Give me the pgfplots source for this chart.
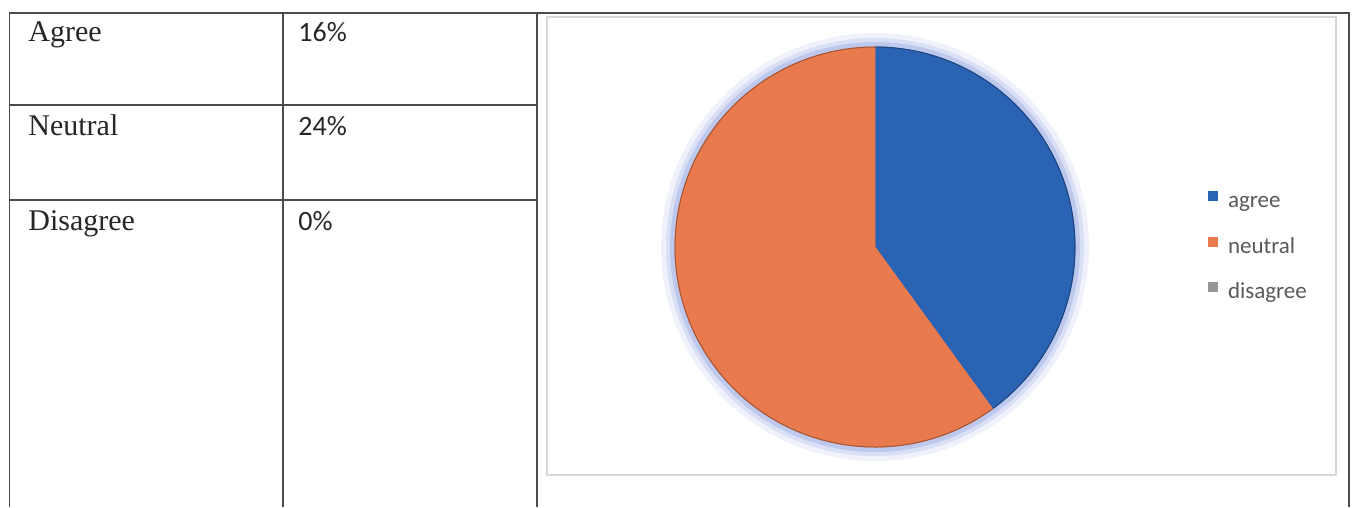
\documentclass[border=0pt]{standalone}
\usepackage{pgfplots}
\pgfplotsset{compat=1.18}
\usepackage{pgfplotstable}
\usepackage{fontspec}
\setmainfont{Liberation Serif}
\newfontfamily\calibri{Carlito}

\definecolor{pieblue}{RGB}{42,99,179}
\definecolor{pieorange}{RGB}{232,122,78}
\definecolor{piegray}{RGB}{150,150,150}
\definecolor{glow}{RGB}{150,165,225}
\definecolor{rule}{RGB}{75,75,75}
\definecolor{chartframe}{RGB}{215,215,215}
\definecolor{legtext}{RGB}{89,89,89}

\tikzset{
    cellname/.style={anchor=base west, inner sep=0pt, font=\fontsize{15}{16}\selectfont, text=black!85},
    cellnum/.style={anchor=base west, inner sep=0pt, font=\calibri\fontsize{14}{15}\selectfont, text=black!85},
}

% answers in percent
\pgfplotstableread{
name     value
agree    16
neutral  24
disagree 0
}\piedata

\pgfplotstablegetelem{0}{value}\of\piedata \let\vagree\pgfplotsretval
\pgfplotstablegetelem{1}{value}\of\piedata \let\vneutral\pgfplotsretval
\pgfplotstablegetelem{2}{value}\of\piedata \let\vdisagree\pgfplotsretval
\pgfmathsetmacro\vtotal{\vagree+\vneutral+\vdisagree}

\pgfdeclareplotmark{blank}{}

% #1 = sum before this slice, #2 = value, #3 = colour; radius 100pt
\newcommand\pieslice[3]{%
    \pgfmathsetmacro\sa{90-(#1)/\vtotal*360}%
    \pgfmathsetmacro\ea{90-((#1)+(#2))/\vtotal*360}%
    \ifdim #2pt>0pt
        \draw[glow, opacity=0.15, line width=14pt] (\sa:100pt) arc[start angle=\sa, end angle=\ea, radius=100pt];
        \draw[glow, opacity=0.25, line width=9pt] (\sa:100pt) arc[start angle=\sa, end angle=\ea, radius=100pt];
        \draw[glow, opacity=0.4, line width=5pt] (\sa:100pt) arc[start angle=\sa, end angle=\ea, radius=100pt];
        \fill[#3] (0,0) -- (\sa:100pt) arc[start angle=\sa, end angle=\ea, radius=100pt] -- cycle;
        \draw[#3!70!black, line width=0.5pt] (\sa:100pt) arc[start angle=\sa, end angle=\ea, radius=100pt];
    \fi}

\begin{document}
\begin{tikzpicture}
\begin{axis}[
    width=677pt, height=253.5pt, scale only axis,
    xmin=0, xmax=1354, ymin=0, ymax=507, y dir=reverse,
    hide axis, clip=false,
    legend style={at={(axis cs:1208,191)}, anchor=north west, draw=none, fill=none,
        inner sep=0pt, outer sep=0pt, row sep=12.5pt, column sep=5pt,
        font=\calibri\fontsize{11.5}{12}\selectfont, text=legtext,
        nodes={inner sep=0pt, text height=8pt, text depth=2pt}},
    legend cell align=left,
    legend image code/.code={\fill[#1] (0pt,0.3pt) rectangle (5pt,5.3pt);},
    pie/.style={scatter, only marks, mark=blank, forget plot, scatter/@post marker code/.code={}},
]
% whole page
\path (axis cs:0,0) rectangle (axis cs:1354,507);
% table rules
\draw[rule, line width=0.9pt] (axis cs:9.5,507) -- (axis cs:9.5,13) -- (axis cs:1349,13) -- (axis cs:1349,507);
\draw[rule, line width=0.9pt] (axis cs:283,13) -- (axis cs:283,507);
\draw[rule, line width=0.9pt] (axis cs:537,13) -- (axis cs:537,507);
\draw[rule, line width=0.9pt] (axis cs:9.5,105) -- (axis cs:537,105);
\draw[rule, line width=0.9pt] (axis cs:9.5,200) -- (axis cs:537,200);
\draw[chartframe, line width=0.6pt] (axis cs:547,17) rectangle (axis cs:1336,475);

% table text
\node[cellname] at (axis cs:28,42) {Agree};
\node[cellname] at (axis cs:28,135) {Neutral};
\node[cellname] at (axis cs:28,230) {Disagree};
\node[cellnum] at (axis cs:298,42) {\vagree\%};
\node[cellnum] at (axis cs:298,135) {\vneutral\%};
\node[cellnum] at (axis cs:298,230) {\vdisagree\%};

% pie slices, each a scatter mark at the centre
\addplot[pie, scatter/@pre marker code/.code={\pieslice{0}{\vagree}{pieblue}}] coordinates {(875,247)};
\addplot[pie, scatter/@pre marker code/.code={\pieslice{\vagree}{\vneutral}{pieorange}}] coordinates {(875,247)};
\addplot[pie, scatter/@pre marker code/.code={\pieslice{\vagree+\vneutral}{\vdisagree}{piegray}}] coordinates {(875,247)};

\addlegendimage{fill=pieblue, draw=none}
\addlegendentry{agree}
\addlegendimage{fill=pieorange, draw=none}
\addlegendentry{neutral}
\addlegendimage{fill=piegray, draw=none}
\addlegendentry{disagree}
\end{axis}
\end{tikzpicture}
\end{document}
